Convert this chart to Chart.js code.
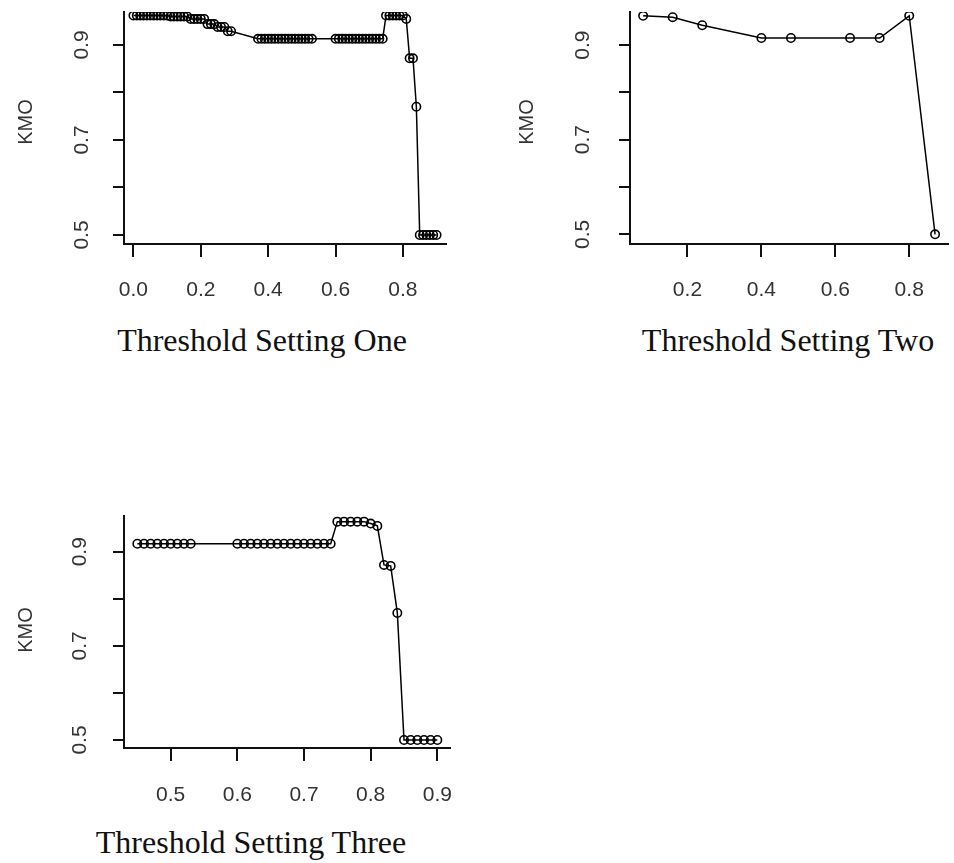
<!DOCTYPE html>
<html>
<head>
<meta charset="utf-8">
<script src="https://cdn.jsdelivr.net/npm/chart.js@4.4.1/dist/chart.umd.min.js"></script>
<style>
html,body{margin:0;padding:0;background:#fff;width:954px;height:863px;overflow:hidden;}
.wrap{position:absolute;}
.cap{position:absolute;font-family:"Liberation Serif","Times New Roman",serif;font-size:32px;color:#111;white-space:nowrap;transform:translate(-50%,-50%);}
</style>
</head>
<body>
<div class="wrap" style="left:0px;top:0px;"><canvas id="c1" width="477" height="310"></canvas></div>
<div class="wrap" style="left:477px;top:0px;"><canvas id="c2" width="477" height="310"></canvas></div>
<div class="wrap" style="left:0px;top:470px;"><canvas id="c3" width="477" height="340"></canvas></div>
<div class="cap" style="left:262px;top:340px;">Threshold Setting One</div>
<div class="cap" style="left:788px;top:340px;">Threshold Setting Two</div>
<div class="cap" style="left:251px;top:842px;">Threshold Setting Three</div>
<script>
// ---- data ----
const p1X = [0.00,0.01,0.02,0.03,0.04,0.05,0.06,0.07,0.08,0.09,
             0.10,0.11,0.12,0.13,0.14,0.15,0.16,0.17,0.18,0.19,
             0.20,0.21,0.22,0.23,0.24,0.25,0.26,0.27,0.28,0.29,
             0.37,0.38,0.39,0.40,0.41,0.42,0.43,0.44,0.45,0.46,0.47,0.48,0.49,0.50,0.51,0.52,0.53,
             0.60,0.61,0.62,0.63,0.64,0.65,0.66,0.67,0.68,0.69,0.70,0.71,0.72,0.73,0.74,
             0.75,0.76,0.77,0.78,0.79,0.80,0.81,0.82,0.83,0.84,
             0.85,0.86,0.87,0.88,0.89,0.90];
const p1KMO = [0.962,0.962,0.962,0.962,0.962,0.962,0.962,0.962,0.962,0.962,
               0.962,0.960,0.960,0.960,0.960,0.960,0.960,0.955,0.955,0.955,
               0.955,0.955,0.944,0.944,0.944,0.938,0.938,0.938,0.929,0.929,
               0.913,0.913,0.913,0.913,0.913,0.913,0.913,0.913,0.913,0.913,0.913,0.913,0.913,0.913,0.913,0.913,0.913,
               0.913,0.913,0.913,0.913,0.913,0.913,0.913,0.913,0.913,0.913,0.913,0.913,0.913,0.913,0.913,
               0.962,0.962,0.962,0.962,0.962,0.962,0.955,0.872,0.872,0.770,
               0.500,0.500,0.500,0.500,0.500,0.500];

const p2X = [0.08,0.16,0.24,0.40,0.48,0.64,0.72,0.80,0.87];
const p2KMO = [0.962,0.959,0.942,0.915,0.915,0.915,0.915,0.962,0.500];

const p3X = [0.45,0.46,0.47,0.48,0.49,0.50,0.51,0.52,0.53,
             0.60,0.61,0.62,0.63,0.64,0.65,0.66,0.67,0.68,0.69,0.70,0.71,0.72,0.73,0.74,
             0.75,0.76,0.77,0.78,0.79,0.80,0.81,0.82,0.83,0.84,
             0.85,0.86,0.87,0.88,0.89,0.90];
const p3KMO = [0.917,0.917,0.917,0.917,0.917,0.917,0.917,0.917,0.917,
               0.917,0.917,0.917,0.917,0.917,0.917,0.917,0.917,0.917,0.917,0.917,0.917,0.917,0.917,0.917,
               0.964,0.964,0.964,0.964,0.964,0.960,0.955,0.872,0.870,0.770,
               0.500,0.500,0.500,0.500,0.500,0.500];

const p1XTicks = [0.0,0.2,0.4,0.6,0.8];
const p1XTickLabels = ["0.0","0.2","0.4","0.6","0.8"];
const p2XTicks = [0.2,0.4,0.6,0.8];
const p2XTickLabels = ["0.2","0.4","0.6","0.8"];
const p3XTicks = [0.5,0.6,0.7,0.8,0.9];
const p3XTickLabels = ["0.5","0.6","0.7","0.8","0.9"];
const yTicks = [0.5,0.6,0.7,0.8,0.9];
const yTickLabels = ["0.5","","0.7","","0.9"];
const yTitle = "KMO";

// ---- drawing ----
const rLabels = {
  id: 'rlabels',
  afterDraw(chart, args, o) {
    const ctx = chart.ctx, ca = chart.chartArea;
    const xs = chart.scales.x, ys = chart.scales.y;
    ctx.save();
    ctx.fillStyle = '#333';
    ctx.font = '21px "Liberation Sans", Arial, sans-serif';
    ctx.textAlign = 'center';
    ctx.textBaseline = 'middle';
    o.xTicks.forEach((v, i) => {
      ctx.fillText(o.xText[i], xs.getPixelForValue(v), ca.bottom + o.xOff);
    });
    o.yTicks.forEach((v, i) => {
      if (!o.yText[i]) return;
      ctx.save();
      ctx.translate(o.yLabX, ys.getPixelForValue(v));
      ctx.rotate(-Math.PI / 2);
      ctx.fillText(o.yText[i], 0, 0);
      ctx.restore();
    });
    ctx.font = '20px "Liberation Sans", Arial, sans-serif';
    ctx.save();
    ctx.translate(o.kmoX, o.kmoY);
    ctx.rotate(-Math.PI / 2);
    ctx.fillText(o.title, 0, 0);
    ctx.restore();
    ctx.restore();
  }
};

function makePanel(id, cv, area, xs, ks, xr, yr, xt, xtl, lab) {
  const data = xs.map((x, i) => ({x: x, y: ks[i]}));
  const cl = cv.left, ct = cv.top;
  new Chart(document.getElementById(id), {
    type: 'scatter',
    data: { datasets: [{
      data: data,
      showLine: true,
      borderColor: '#000',
      borderWidth: 1.5,
      tension: 0,
      pointStyle: 'circle',
      pointRadius: 4.2,
      pointBorderWidth: 1.6,
      pointBorderColor: '#000',
      pointBackgroundColor: 'rgba(255,255,255,0)',
      pointHoverRadius: 4.2
    }]},
    options: {
      responsive: false,
      animation: false,
      events: [],
      layout: { padding: { left: 0, top: area.top - ct, right: cl + cv.w - area.right, bottom: 0 } },
      plugins: {
        legend: { display: false },
        tooltip: { enabled: false },
        rlabels: {
          xTicks: xt, xText: xtl, xOff: lab.xOff,
          yTicks: yTicks, yText: yTickLabels,
          yLabX: lab.yLabX - cl, kmoX: lab.kmoX - cl, kmoY: lab.kmoY - ct, title: yTitle
        }
      },
      scales: {
        x: {
          type: 'linear', min: xr[0], max: xr[1],
          afterBuildTicks: s => { s.ticks = xt.map(v => ({value: v})); },
          afterFit: s => { s.height = ct + cv.h - area.bottom; },
          ticks: { display: false },
          grid: { drawOnChartArea: false, drawTicks: true, tickLength: 13, color: '#111', lineWidth: 2 },
          border: { display: true, color: '#111', width: 2 }
        },
        y: {
          type: 'linear', min: yr[0], max: yr[1],
          afterBuildTicks: s => { s.ticks = yTicks.map(v => ({value: v})); },
          afterFit: s => { s.width = area.left - cl; },
          ticks: { display: false },
          grid: { drawOnChartArea: false, drawTicks: true, tickLength: 11, color: '#111', lineWidth: 2 },
          border: { display: true, color: '#111', width: 2 }
        }
      }
    },
    plugins: [rLabels]
  });
}

makePanel('c1', {left: 0, top: 0, w: 477, h: 310},
  {left: 124, top: 12, right: 446, bottom: 244},
  p1X, p1KMO, [-0.028, 0.928], [0.481, 0.9695], p1XTicks, p1XTickLabels,
  {xOff: 46, yLabX: 82, kmoX: 26, kmoY: 122});

makePanel('c2', {left: 477, top: 0, w: 477, h: 310},
  {left: 630, top: 12, right: 953, bottom: 244},
  p2X, p2KMO, [0.0445, 0.9055], [0.4795, 0.97], p2XTicks, p2XTickLabels,
  {xOff: 46, yLabX: 583, kmoX: 527, kmoY: 122});

makePanel('c3', {left: 0, top: 470, w: 477, h: 340},
  {left: 124, top: 516, right: 450, bottom: 748},
  p3X, p3KMO, [0.43, 0.919], [0.483, 0.976], p3XTicks, p3XTickLabels,
  {xOff: 47, yLabX: 80, kmoX: 26, kmoY: 630});
</script>
</body>
</html>
